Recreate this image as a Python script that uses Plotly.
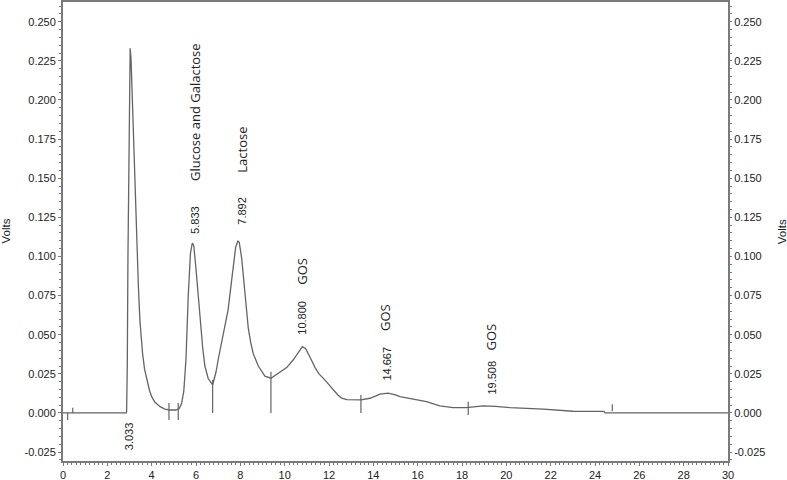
import plotly.graph_objects as go

# Chromatogram trace (time in minutes, detector signal in volts)
time_min = [0.0, 2.85, 2.87, 2.90, 2.93, 2.97, 3.00, 3.03, 3.07, 3.13, 3.20, 3.25, 3.32,
            3.40, 3.47, 3.53, 3.59, 3.68, 3.78, 3.90, 4.00, 4.15, 4.38, 4.60, 4.80,
            5.10, 5.25, 5.35, 5.45, 5.55, 5.65, 5.75, 5.833, 5.90, 6.00, 6.10, 6.20,
            6.30, 6.40, 6.55, 6.75, 6.90, 7.00, 7.16, 7.30, 7.45, 7.61, 7.79, 7.892, 7.95,
            8.06, 8.16, 8.25, 8.36, 8.47, 8.58, 8.81, 9.11, 9.38, 9.71, 10.09, 10.39,
            10.62, 10.80, 10.95, 11.07, 11.20, 11.37, 11.55, 11.82, 12.00, 12.19, 12.40,
            12.57, 12.80, 13.44, 13.85, 14.30, 14.667, 15.00, 15.20, 15.80, 16.40,
            17.00, 17.60, 18.20, 18.96, 19.508, 20.17, 21.67, 23.00, 24.40, 24.45, 30.0]
signal_v = [0.0, 0.0, 0.001, 0.03, 0.10, 0.16, 0.215, 0.233, 0.226, 0.200, 0.160, 0.136, 0.104,
            0.081, 0.059, 0.047, 0.038, 0.028, 0.021, 0.0145, 0.0104, 0.0068, 0.0040, 0.0025, 0.0019,
            0.0019, 0.0030, 0.0060, 0.0140, 0.0350, 0.0750, 0.1020, 0.1086, 0.1070, 0.0920, 0.0740, 0.0570,
            0.0420, 0.0300, 0.0220, 0.0180, 0.0260, 0.0340, 0.0460, 0.0570, 0.0660, 0.0850, 0.1060, 0.1100, 0.1090,
            0.0990, 0.0830, 0.0690, 0.0540, 0.0450, 0.0380, 0.0300, 0.0235, 0.0222, 0.0254, 0.0290, 0.0340,
            0.0390, 0.0424, 0.0410, 0.0380, 0.0340, 0.0290, 0.0250, 0.0210, 0.0180, 0.0147, 0.0115,
            0.0094, 0.0085, 0.0083, 0.0094, 0.0120, 0.0127, 0.0115, 0.0104, 0.0089, 0.0072,
            0.0045, 0.0034, 0.0034, 0.0045, 0.0042, 0.0034, 0.0024, 0.0011, 0.0010, 0.0, 0.0]

# Integration event markers (time, lower and upper signal of each vertical tick)
event_t = [0.21, 0.44, 4.78, 5.20, 6.75, 9.38, 13.44, 18.28, 24.78]
event_lo = [-0.0045, 0.0, -0.0045, -0.0045, 0.0, 0.0, 0.0, -0.0013, 0.0011]
event_hi = [0.0, 0.0034, 0.0064, 0.0064, 0.0210, 0.0264, 0.0115, 0.0072, 0.0056]

# Peak labels
peak_names = ["Glucose and Galactose", "Lactose", "GOS", "GOS", "GOS"]
name_t = [5.95, 8.06, 10.77, 14.53, 19.29]
name_v = [0.1923, 0.168, 0.0907, 0.0607, 0.0486]
rt_labels = ["3.033", "5.833", "7.892", "10.800", "14.667", "19.508"]
rt_t = [2.99, 5.95, 8.06, 10.77, 14.60, 19.34]
rt_v = [-0.0147, 0.1233, 0.129, 0.0607, 0.0313, 0.0224]

x_ticks = list(range(0, 31, 2))
y_ticks = [-0.025, 0.0, 0.025, 0.05, 0.075, 0.1, 0.125, 0.15, 0.175, 0.2, 0.225, 0.25]

YR = [-0.0307, 0.2626]
LINE = "#646464"
FRAME = "#7a7a7a"
TXT = "#222222"
NUMFONT = "Liberation Sans, Arial, sans-serif"

fig = go.Figure()

fig.add_trace(go.Scatter(x=time_min, y=signal_v, mode="lines",
                         line=dict(color=LINE, width=1.3), showlegend=False, hoverinfo="skip"))

ex, ey = [], []
for t, lo, hi in zip(event_t, event_lo, event_hi):
    ex += [t, t, None]
    ey += [lo, hi, None]
fig.add_trace(go.Scatter(x=ex, y=ey, mode="lines", line=dict(color=LINE, width=1.2),
                         showlegend=False, hoverinfo="skip"))

# invisible trace for right axis
fig.add_trace(go.Scatter(x=[0], y=[0], yaxis="y2", mode="markers", marker=dict(opacity=0),
                         showlegend=False, hoverinfo="skip"))

for txt, t, v in zip(peak_names, name_t, name_v):
    fig.add_annotation(x=t, y=v, text=txt, textangle=-90, showarrow=False,
                       xanchor="center", yanchor="middle",
                       font=dict(family="Open Sans, sans-serif", size=13, color=TXT))
for txt, t, v in zip(rt_labels, rt_t, rt_v):
    fig.add_annotation(x=t, y=v, text=txt, textangle=-90, showarrow=False,
                       xanchor="center", yanchor="middle",
                       font=dict(family=NUMFONT, size=11, color=TXT))

for xp in (-0.0872, 1.0808):
    fig.add_annotation(x=xp, y=0.5, xref="paper", yref="paper", text="Volts", textangle=-90,
                       showarrow=False, xanchor="center", yanchor="middle",
                       font=dict(family=NUMFONT, size=11.5, color=TXT))

fig.update_layout(
    width=787, height=480,
    margin=dict(l=63, r=59, t=2, b=19, autoexpand=False),
    paper_bgcolor="white", plot_bgcolor="white",
    xaxis=dict(range=[0, 30], tickvals=x_ticks, ticktext=[str(v) for v in x_ticks],
               automargin=False,
               showgrid=False, zeroline=False, showline=True, linecolor=FRAME, linewidth=2,
               mirror=True, ticks="outside", ticklen=3, tickcolor=FRAME,
               minor=dict(dtick=0.2, ticks="outside", ticklen=2, tickcolor=FRAME),
               tickfont=dict(family=NUMFONT, size=11, color=TXT)),
    yaxis=dict(range=YR, tickvals=y_ticks, ticktext=[f"{v:.3f}" for v in y_ticks],
               automargin=False,
               showgrid=False, zeroline=False, showline=True, linecolor=FRAME, linewidth=2,
               ticks="outside", ticklen=3, tickcolor=FRAME,
               minor=dict(dtick=0.005, ticks="outside", ticklen=2, tickcolor=FRAME),
               tickfont=dict(family=NUMFONT, size=11, color=TXT)),
    yaxis2=dict(range=YR, tickvals=y_ticks, ticktext=[f"{v:.3f}" for v in y_ticks],
                overlaying="y", side="right", automargin=False,
                showgrid=False, zeroline=False, showline=True, linecolor=FRAME, linewidth=2,
                ticks="outside", ticklen=2, tickcolor=FRAME,
                minor=dict(dtick=0.005, ticks="outside", ticklen=2, tickcolor=FRAME),
                tickfont=dict(family=NUMFONT, size=11, color=TXT)),
)

fig.write_html("out.html", config={"displayModeBar": False},
               post_script="document.body.style.margin='0';document.body.style.overflow='hidden';")
